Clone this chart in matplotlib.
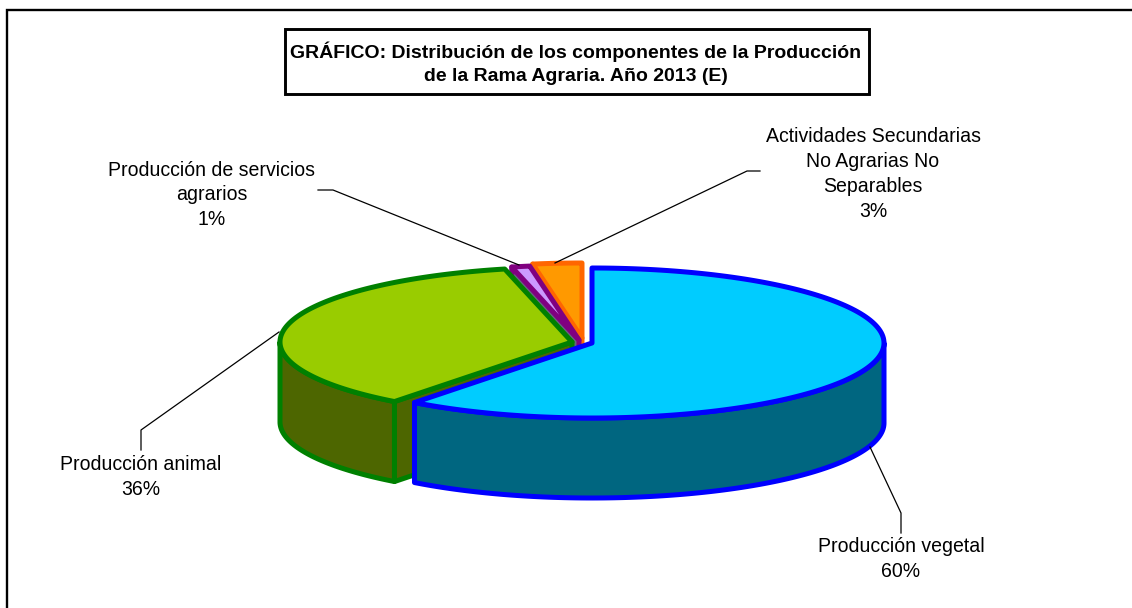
import numpy as np
import matplotlib
matplotlib.use("Agg")
import matplotlib.pyplot as plt

plt.rcParams["font.family"] = ["Liberation Sans", "DejaVu Sans"]

# -----------------------------
# DATA
# -----------------------------
names = ["Producción vegetal", "Producción animal", "Producción de servicios\nagrarios",
         "Actividades Secundarias\nNo Agrarias No\nSeparables"]
shares = [60.4, 35.9, 1.0, 2.7]
title = "GRÁFICO: Distribución de los componentes de la Producción\nde la Rama Agraria. Año 2013 (E)"

# -----------------------------
# STYLE AND LAYOUT (pixels)
# -----------------------------
top_colors = ["#00CCFF", "#99CC00", "#CC99FF", "#FF9900"]
side_colors = ["#006680", "#4D6600", "#666680", "#804D00"]
edge_colors = ["#0000FF", "#008000", "#800080", "#FF6600"]
centers = [(592, 343), (572, 342), (579, 340), (582, 338)]
RX, RY, DEPTH = 292, 75, 80
label_pos = [(901, 559), (141, 477), (212, 195), (873, 174)]
leaders = [
    [(870, 447), (901, 513), (901, 533)],
    [(279, 332), (141, 430), (141, 450)],
    [(519, 265), (333, 190), (318, 190)],
    [(555, 263), (747, 171), (760, 171)],
]

fig = plt.figure(figsize=(11.32, 6.08), dpi=100)
ax = fig.add_axes([0, 0, 1, 1])
ax.set_xlim(0, 1132)
ax.set_ylim(608, 0)
ax.axis("off")


def rim(c, t):
    # point of the ellipse, t in degrees clockwise from the top
    t = np.radians(t)
    return np.column_stack([c[0] + RX * np.sin(t), c[1] - RY * np.cos(t)])


def poly(pts, face, edge, z):
    ax.fill(pts[:, 0], pts[:, 1], facecolor=face, edgecolor=edge, linewidth=3.6,
            joinstyle="round", zorder=z)


def draw_slice(i, t0, t1, z):
    c = centers[i]
    # front wall, the part of the arc that faces the viewer
    a0, a1 = max(t0, 90), min(t1, 270)
    if a1 > a0:
        arc = rim(c, np.linspace(a0, a1, 120))
        wall = np.vstack([arc, (arc + [0, DEPTH])[::-1]])
        poly(wall, side_colors[i], edge_colors[i], z)
    # cut face on the start side, seen only left of the centre
    if i != 0:
        p = rim(c, [t0])[0]
        face = np.array([c, p, p + [0, DEPTH], [c[0], c[1] + DEPTH]])
        poly(face, side_colors[i], edge_colors[i], z)
    # top
    arc = rim(c, np.linspace(t0, t1, 160))
    poly(np.vstack([[c], arc]), top_colors[i], edge_colors[i], z + 0.5)


# -----------------------------
# PIE
# -----------------------------
ends = np.cumsum(shares) * 3.6
starts = np.r_[0, ends[:-1]]
for z, i in enumerate([3, 2, 1, 0]):
    draw_slice(i, starts[i], ends[i], z + 2)

# -----------------------------
# LABELS
# -----------------------------
for i, name in enumerate(names):
    xs, ys = zip(*leaders[i])
    ax.plot(xs, ys, color="black", lw=0.9, zorder=6)
    ax.text(label_pos[i][0], label_pos[i][1], f"{name}\n{round(shares[i])}%",
            ha="center", va="center", fontsize=14.05, linespacing=1.38, zorder=7)

# -----------------------------
# FRAME AND TITLE
# -----------------------------
ax.plot([7, 7, 1132], [608, 10.3, 10.3], color="black", lw=1.7, solid_joinstyle="miter", zorder=8)
ax.fill([285, 869, 869, 285], [28.5, 28.5, 93.8, 93.8], facecolor="white", edgecolor="black", lw=2.1, zorder=8)
ax.text(576, 63, title, ha="center", va="center", fontsize=14.0, fontweight="bold",
        linespacing=1.5, zorder=9)

fig.savefig("out.png", dpi=100)
